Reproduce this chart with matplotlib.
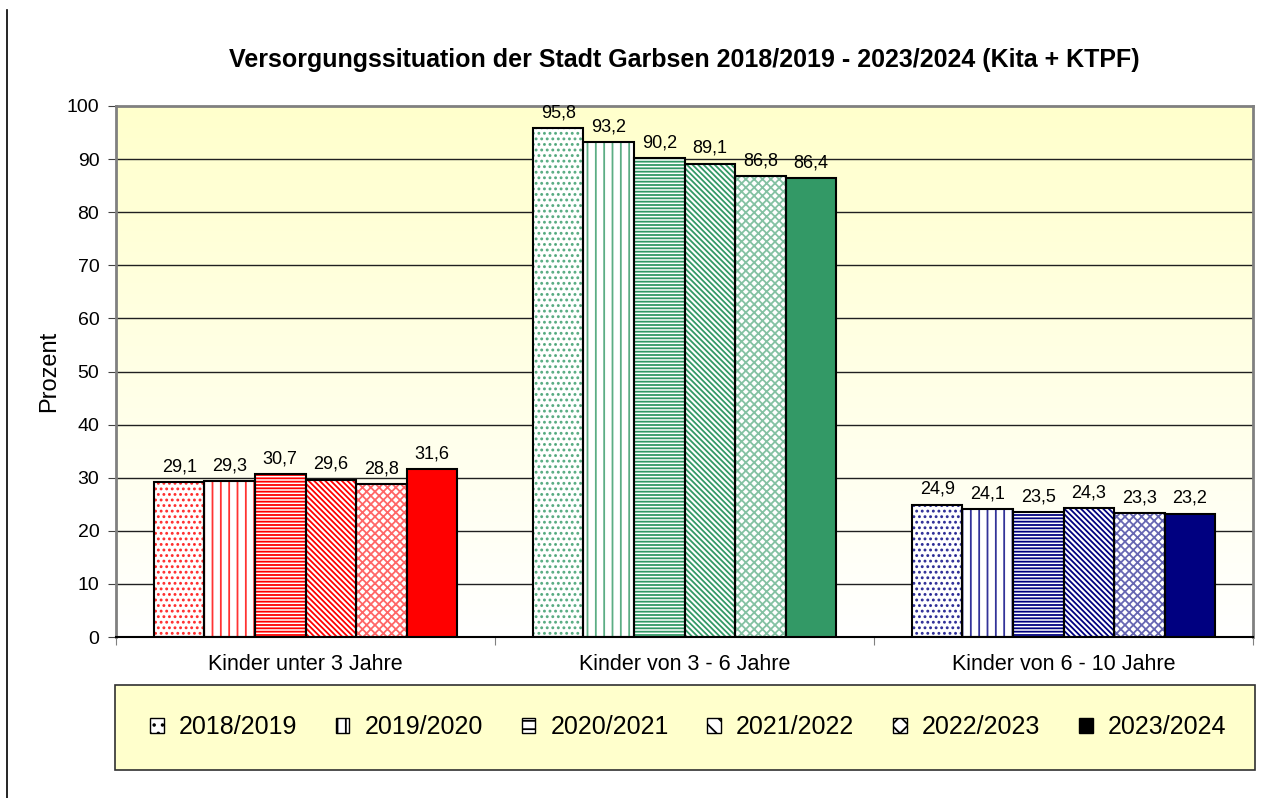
import numpy as np
import matplotlib
matplotlib.use("Agg")
import matplotlib.pyplot as plt
from matplotlib.patches import Patch, Rectangle
from matplotlib.lines import Line2D

plt.rcParams['font.family'] = ['Liberation Sans', 'DejaVu Sans']
plt.rcParams['hatch.linewidth'] = 1.3

categories = ['Kinder unter 3 Jahre', 'Kinder von 3 - 6 Jahre', 'Kinder von 6 - 10 Jahre']
years = ['2018/2019', '2019/2020', '2020/2021', '2021/2022', '2022/2023', '2023/2024']
values = {
    '2018/2019': [29.1, 95.8, 24.9],
    '2019/2020': [29.3, 93.2, 24.1],
    '2020/2021': [30.7, 90.2, 23.5],
    '2021/2022': [29.6, 89.1, 24.3],
    '2022/2023': [28.8, 86.8, 23.3],
    '2023/2024': [31.6, 86.4, 23.2],
}
group_colors = ['#FF0000', '#339966', '#000080']
hatches = ['...', '||', '-----', '\\\\\\\\\\\\', 'xxxx', None]
hatch_alpha = [0.8, 0.8, 1.0, 1.0, 0.6, 1.0]

fig = plt.figure(figsize=(12.88, 7.98), dpi=100)
ax = fig.add_axes([116 / 1288, 1 - 637 / 798, 1137 / 1288, 531 / 798])

# gradient background of the plot area
grad = np.linspace(0, 1, 256).reshape(-1, 1)
cmap = matplotlib.colors.LinearSegmentedColormap.from_list('bg', ['#FFFFFF', '#FFFFCC'])
ax.imshow(grad, extent=[-0.5, 2.5, 0, 100], origin='lower', aspect='auto',
          cmap=cmap, zorder=0)

ax.set_xlim(-0.5, 2.5)
ax.set_ylim(0, 100)
for yv in range(10, 100, 10):
    ax.axhline(yv, color='#202020', lw=1.0, zorder=1)

width = 0.8 / 6
x = np.arange(len(categories))
for i, yr in enumerate(years):
    xs = x - 0.4 + width * (i + 0.5)
    for j in range(len(categories)):
        v = values[yr][j]
        col = group_colors[j]
        if hatches[i] is None:
            ax.bar(xs[j], v, width, color=col, edgecolor='black', lw=1.5, zorder=3)
        else:
            ax.bar(xs[j], v, width, color='white', zorder=2)
            ax.bar(xs[j], v, width, fill=False, edgecolor=col, hatch=hatches[i],
                   lw=0, alpha=hatch_alpha[i], zorder=3)
            ax.bar(xs[j], v, width, fill=False, edgecolor='black', lw=1.5, zorder=4)
        ax.text(xs[j], v + 1.3, f'{v:.1f}'.replace('.', ','), ha='center',
                va='bottom', fontsize=13, zorder=5)

ax.set_xticks([-0.5, 0.5, 1.5, 2.5])
ax.set_xticklabels([])
ax.set_xticks(x, minor=True)
ax.set_xticklabels(categories, minor=True, fontsize=15.5)
ax.tick_params(axis='x', which='major', length=6, color='#808080')
ax.tick_params(axis='x', which='minor', length=0, pad=12)
ax.set_yticks(range(0, 101, 10))
ax.tick_params(axis='y', labelsize=14, length=6, color='#404040', pad=6)
ax.set_ylabel('Prozent', fontsize=17, labelpad=5)

for s in ['left', 'right', 'top']:
    ax.spines[s].set_color('#808080')
    ax.spines[s].set_linewidth(2)
ax.spines['bottom'].set_color('black')
ax.spines['bottom'].set_linewidth(1.5)

fig.text(684 / 1288, 1 - 60 / 798,
         'Versorgungssituation der Stadt Garbsen 2018/2019 - 2023/2024 (Kita + KTPF)',
         ha='center', va='center', fontsize=18, fontweight='bold')

# legend box
fig.patches.append(Rectangle((115 / 1288, 1 - 770 / 798), 1140 / 1288, 85 / 798,
                             transform=fig.transFigure, facecolor='#FFFFCC',
                             edgecolor='#303030', lw=1.2, zorder=0))
handles = []
for i, yr in enumerate(years):
    if hatches[i] is None:
        handles.append(Patch(facecolor='black', edgecolor='black', label=yr))
    else:
        handles.append(Patch(facecolor='white', edgecolor='black', hatch=hatches[i][:2],
                             label=yr))
fig.legend(handles=handles, loc='center', bbox_to_anchor=(688 / 1288, 1 - 727 / 798),
           ncol=6, frameon=False, fontsize=18, handlelength=0.55, handleheight=0.55,
           handletextpad=0.6, columnspacing=1.55)

# left border line of the screenshot
fig.lines.append(Line2D([7 / 1288, 7 / 1288], [0, 1 - 10 / 798],
                        transform=fig.transFigure, color='black', lw=1.2))

fig.savefig('out.png', dpi=100)
